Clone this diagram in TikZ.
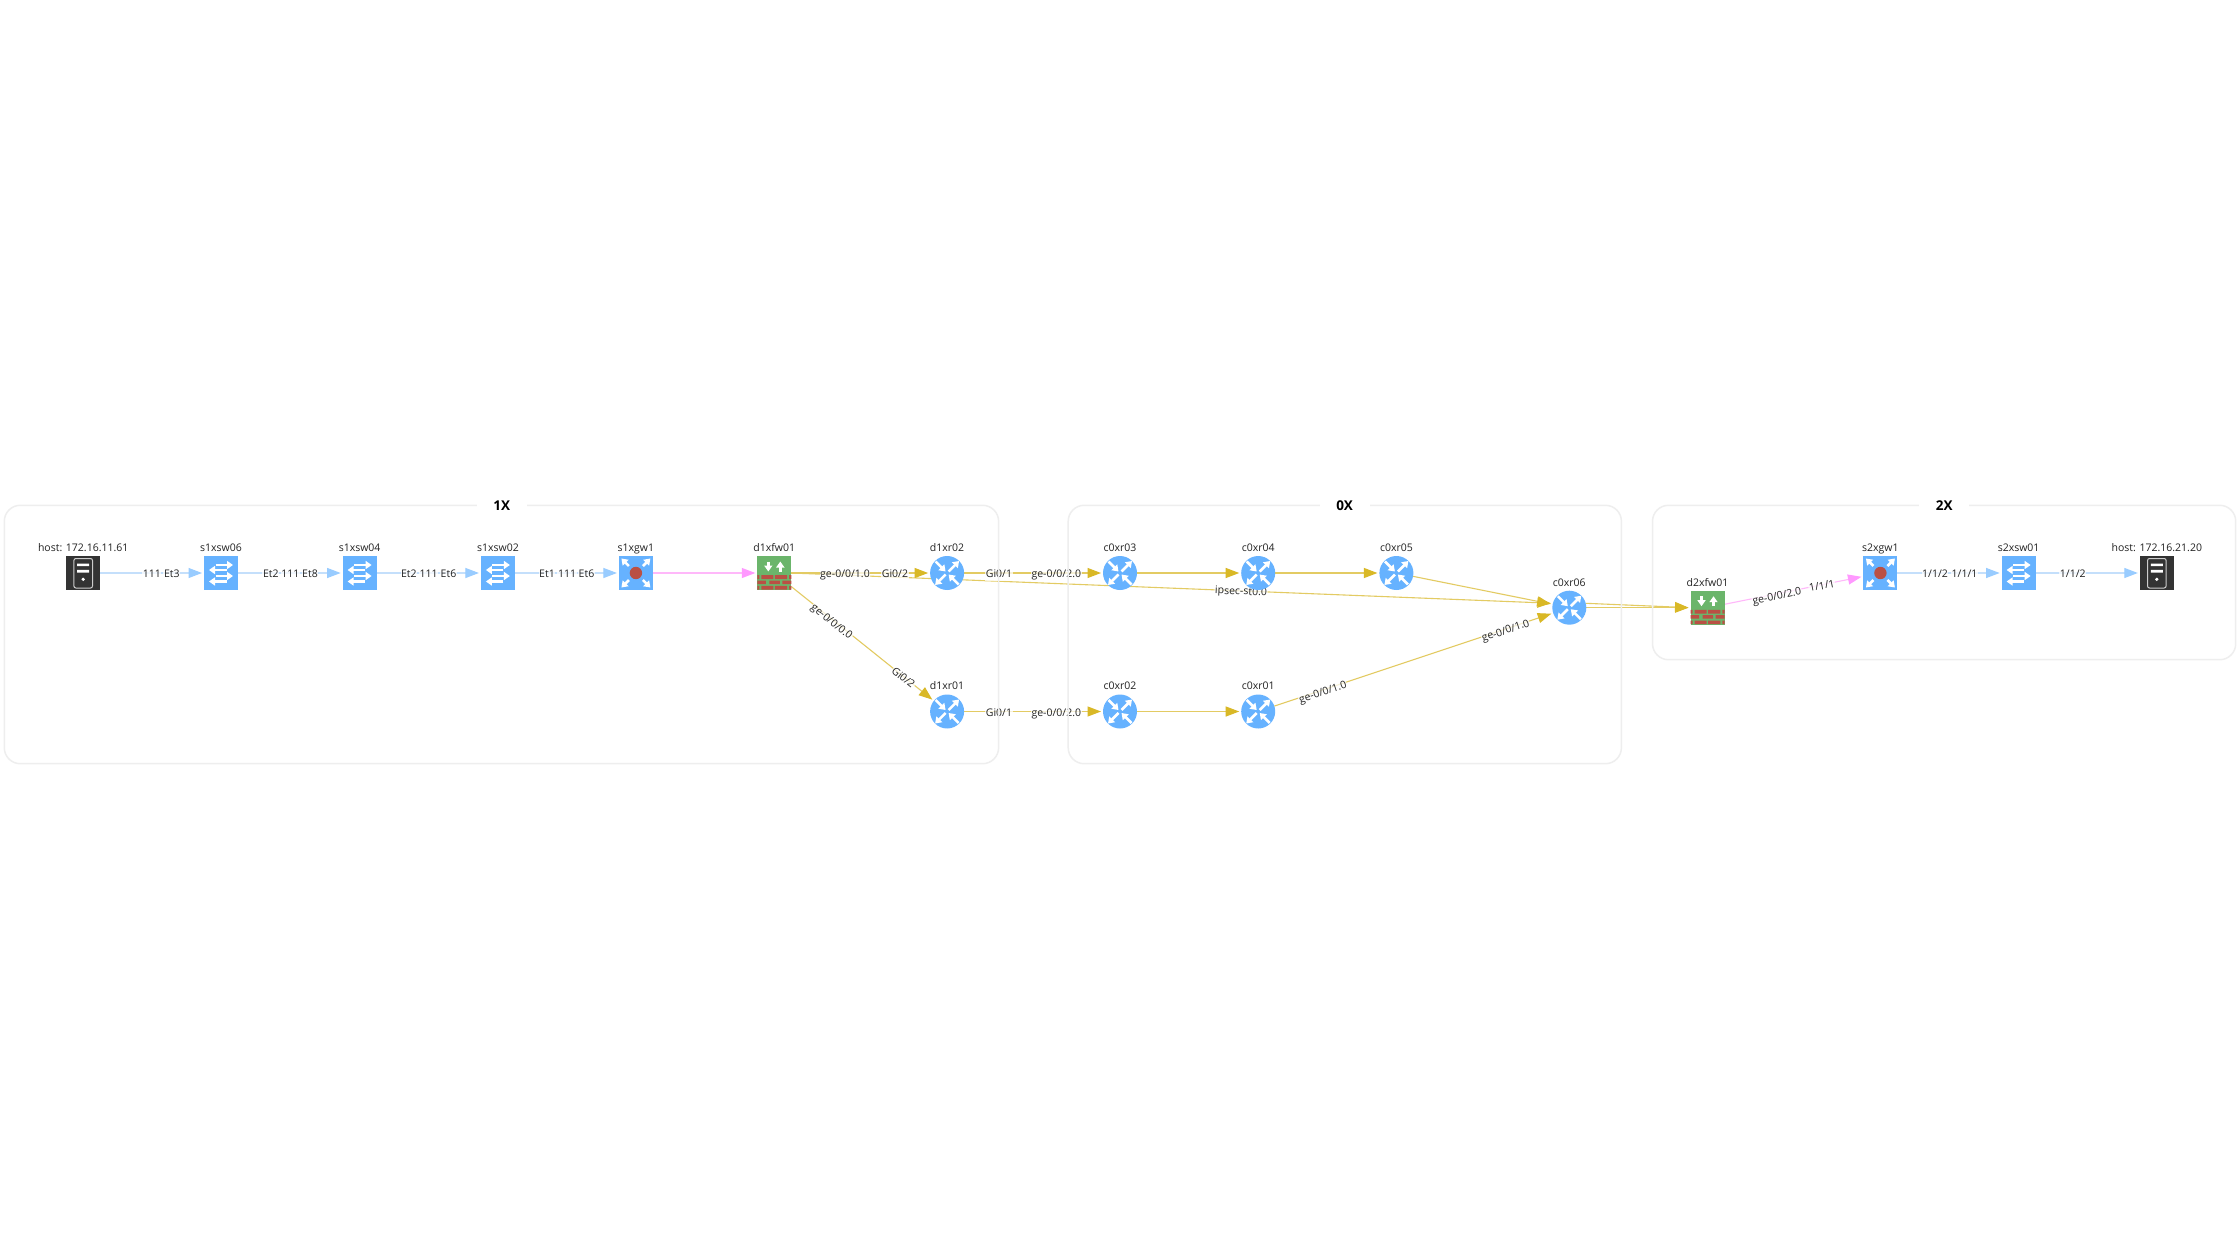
\documentclass[tikz,border=0pt]{standalone}
\usepackage{fontspec}
\setmainfont{Open Sans}
\usetikzlibrary{arrows.meta}
\pgfdeclarelayer{edgelayer}
\pgfdeclarelayer{grouplayer}
\pgfsetlayers{edgelayer,main,grouplayer}
\definecolor{devblue}{HTML}{66B2FF}
\definecolor{fwgreen}{HTML}{6BB56B}
\definecolor{brick}{HTML}{BA5044}
\definecolor{hostdark}{HTML}{333333}
\definecolor{bluehead}{HTML}{99CCFF}
\definecolor{blueline}{HTML}{C4DFFB}
\definecolor{pinkhead}{HTML}{FF99FF}
\definecolor{pinkline}{HTML}{FFB8FA}
\definecolor{yelhead}{HTML}{D9B826}
\definecolor{yelline}{HTML}{E3CB63}
\definecolor{groupline}{HTML}{EEEEEE}
\definecolor{txt}{HTML}{222222}
\tikzset{
  x=1pt,y=-1pt,
  devlabel/.style={font=\fontsize{10.5}{13}\selectfont,text=txt,inner sep=0pt,text height=8pt,text depth=2.4pt,label distance=2pt},
  squaredev/.style={rectangle,minimum size=34pt,inner sep=0pt,outer sep=0pt,fill=devblue},
  routerdev/.style={circle,minimum size=34pt,inner sep=0pt,outer sep=0pt,fill=devblue},
  fwdev/.style={rectangle,minimum size=34pt,inner sep=0pt,outer sep=0pt,fill=fwgreen},
  hostdev/.style={rectangle,minimum size=34pt,inner sep=0pt,outer sep=0pt,fill=hostdark},
  iconarrow/.style={draw=white,line width=2.6pt,-{Triangle[length=6pt,width=8pt]}},
  blueedge/.style={draw=blueline,line width=1.1pt,shorten >=2pt,-{Triangle[length=13.5pt,width=10pt,color=bluehead]}},
  pinkedge/.style={draw=pinkline,line width=1.1pt,shorten >=2pt,-{Triangle[length=13.5pt,width=10pt,color=pinkhead]}},
  yeledge/.style={draw=yelline,line width=1.1pt,shorten >=2pt,-{Triangle[length=13.5pt,width=10pt,color=yelhead]}},
  elabel/.style={font=\fontsize{10.5}{13}\selectfont,text=txt,inner sep=0.6pt,text height=8pt,text depth=2.4pt,fill=white,fill opacity=0.75,text opacity=1,yshift=-1pt},
  groupbox/.style={draw=groupline,line width=1.5pt,rounded corners=16pt},
  grouptitle/.style={font=\fontsize{13.5}{15}\selectfont\bfseries,text=black,fill=white,minimum width=50pt,minimum height=14pt,inner sep=0pt},
  routericon/.pic={
    \draw[iconarrow] (-11.5,-11.5)--(-1.5,-1.5);
    \draw[iconarrow] (1.5,-1.5)--(12,-12);
    \draw[iconarrow] (-1.5,1.5)--(-12,12);
    \draw[iconarrow] (11.5,11.5)--(1.5,1.5);
  },
  switchicon/.pic={
    \draw[iconarrow,line width=2.2pt] (-5.5,-8)--(12,-8);
    \draw[iconarrow,line width=2.2pt] (5.5,-3)--(-12,-3);
    \draw[iconarrow,line width=2.2pt] (-5.5,3)--(12,3);
    \draw[iconarrow,line width=2.2pt] (5.5,8.5)--(-12,8.5);
  },
  gwicon/.pic={
    \draw[iconarrow] (-7,-7)--(-14.5,-14.5);
    \draw[iconarrow] (7,-7)--(14.5,-14.5);
    \draw[iconarrow] (-7,7)--(-14.5,14.5);
    \draw[iconarrow] (7,7)--(14.5,14.5);
    \fill[brick] (0,0) circle[radius=6.2];
  },
  fwicon/.pic={
    \draw[iconarrow,line width=2.8pt] (-6,-11.5)--(-6,-1.5);
    \draw[iconarrow,line width=2.8pt] (6,-1.5)--(6,-11.5);
    \fill[brick] (-17,2.2) rectangle (-15,6)
      (-13,2.2) rectangle (-1,6) (0.5,2.2) rectangle (12.8,6) (14.8,2.2) rectangle (17,6);
    \fill[brick] (-17,7.5) rectangle (-8.5,11) (-5,7.5) rectangle (5.5,11) (8,7.5) rectangle (17,11);
    \fill[brick] (-17,12.8) rectangle (-15,16.5)
      (-13,12.8) rectangle (-1,16.5) (0.5,12.8) rectangle (12.8,16.5) (14.8,12.8) rectangle (17,16.5);
  },
  hosticon/.pic={
    \draw[draw=white!80!black,line width=1pt,rounded corners=2pt] (-9.3,-14.5) rectangle (9.3,15);
    \fill[white] (-6,-9.5) rectangle (6,-6.8) (-6,-3.2) rectangle (6,-0.3);
    \fill[white] (0,6.3) circle[radius=1.8];
  },
}
\newcommand{\dev}[6]{\node[#1,label={[devlabel,name=#2-name]above:{#6}}] (#2) at (#3,#4) {}; \pic at (#2) {#5};}
\newcommand{\elab}[5][0]{\node[elabel,rotate=#1] (#2) at (#3,#4) {#5};}
\begin{document}
\begin{tikzpicture}
\useasboundingbox (0,0) rectangle (2240,1260);
\begin{pgfonlayer}{edgelayer}
\fill[white] (0,0) rectangle (2240,1260);
\end{pgfonlayer}

\dev{hostdev}{host1}{83.2}{573}{hosticon}{host: 172.16.11.61}
\dev{squaredev}{s1xsw06}{221}{573}{switchicon}{s1xsw06}
\dev{squaredev}{s1xsw04}{359.6}{573}{switchicon}{s1xsw04}
\dev{squaredev}{s1xsw02}{497.9}{573}{switchicon}{s1xsw02}
\dev{squaredev}{s1xgw1}{635.9}{573}{gwicon}{s1xgw1}
\dev{fwdev}{d1xfw01}{774.3}{573}{fwicon}{d1xfw01}
\dev{routerdev}{d1xr02}{947.1}{573}{routericon}{d1xr02}
\dev{routerdev}{d1xr01}{947.1}{711.5}{routericon}{d1xr01}
\dev{routerdev}{c0xr03}{1120}{573}{routericon}{c0xr03}
\dev{routerdev}{c0xr04}{1258.2}{573}{routericon}{c0xr04}
\dev{routerdev}{c0xr05}{1396.4}{573}{routericon}{c0xr05}
\dev{routerdev}{c0xr06}{1569.3}{607.7}{routericon}{c0xr06}
\dev{routerdev}{c0xr02}{1120}{711.5}{routericon}{c0xr02}
\dev{routerdev}{c0xr01}{1258.2}{711.5}{routericon}{c0xr01}
\dev{fwdev}{d2xfw01}{1707.5}{607.7}{fwicon}{d2xfw01}
\dev{squaredev}{s2xgw1}{1880.4}{573}{gwicon}{s2xgw1}
\dev{squaredev}{s2xsw01}{2018.6}{573}{switchicon}{s2xsw01}
\dev{hostdev}{host2}{2156.8}{573}{hosticon}{host: 172.16.21.20}

\begin{pgfonlayer}{edgelayer}
\draw[blueedge] (host1)--(s1xsw06);
\draw[blueedge] (s1xsw06)--(s1xsw04);
\draw[blueedge] (s1xsw04)--(s1xsw02);
\draw[blueedge] (s1xsw02)--(s1xgw1);
\draw[pinkedge] (s1xgw1)--(d1xfw01);
\draw[yeledge] (d1xfw01.east)--(c0xr06.165);
\draw[yeledge] (d1xfw01)--(d1xr02);
\draw[yeledge] (d1xfw01)--(d1xr01);
\draw[yeledge] (d1xr02)--(c0xr03);
\draw[yeledge] (d1xr01)--(c0xr02);
\draw[yeledge] (c0xr03)--(c0xr04);
\draw[yeledge] (c0xr04)--(c0xr05);
\draw[yeledge] (c0xr05)--(c0xr06);
\draw[yeledge] (c0xr02)--(c0xr01);
\draw[yeledge] (c0xr01)--(c0xr06);
\draw[yeledge] (c0xr06.15)--(d2xfw01.west);
\draw[yeledge] (c0xr06)--(d2xfw01);
\draw[pinkedge] (d2xfw01)--(s2xgw1);
\draw[blueedge] (s2xgw1)--(s2xsw01);
\draw[blueedge] (s2xsw01)--(host2);

\elab{la1}{151.8}{574}{111}
\elab{la2}{171.8}{574}{Et3}
\elab{lb1}{270.8}{574}{Et2}
\elab{lb2}{290.3}{574}{111}
\elab{lb3}{310}{574}{Et8}
\elab{lc1}{408.9}{574}{Et2}
\elab{lc2}{428.5}{574}{111}
\elab{lc3}{448.5}{574}{Et6}
\elab{ld1}{547}{574}{Et1}
\elab{ld2}{567}{574}{111}
\elab{ld3}{586.5}{574}{Et6}
\elab{le1}{845}{574}{ge-0/0/1.0}
\elab{le2}{895}{574}{Gi0/2}
\elab[-38.7]{lf1}{831.4}{621}{ge-0/0/0.0}
\elab[-38.7]{lf2}{902.9}{677.3}{Gi0/2}
\elab{lg1}{999}{574}{Gi0/1}
\elab{lg2}{1056.3}{574}{ge-0/0/2.0}
\elab{lh1}{999}{712.5}{Gi0/1}
\elab{lh2}{1056.3}{712.5}{ge-0/0/2.0}
\elab[-2.2]{li1}{1241}{591}{ipsec-st0.0}
\elab[18.4]{lj1}{1322.9}{692}{ge-0/0/1.0}
\elab[18.4]{lj2}{1505.7}{630.3}{ge-0/0/1.0}
\elab[11.3]{lk1}{1777}{595.7}{ge-0/0/2.0}
\elab[11.3]{lk2}{1822}{585.7}{1/1/1}
\elab{ll1}{1935}{574}{1/1/2}
\elab{ll2}{1964.5}{574}{1/1/1}
\elab{lm1}{2072.8}{574}{1/1/2}
\end{pgfonlayer}

\begin{pgfonlayer}{grouplayer}
\draw[groupbox] (4.3,505.3) rectangle (998.6,763.7);
\draw[groupbox] (1068.2,505.3) rectangle (1621.4,763.7);
\draw[groupbox] (1652.5,505.3) rectangle (2235.7,659.7);
\node[grouptitle] (g1x) at (501.8,505.7) {1X};
\node[grouptitle] (g0x) at (1344.6,505.7) {0X};
\node[grouptitle] (g2x) at (1944.3,505.7) {2X};
\end{pgfonlayer}
\end{tikzpicture}
\end{document}
